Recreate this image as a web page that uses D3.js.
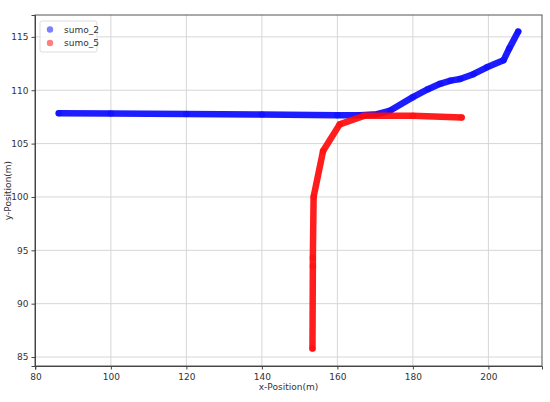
<!DOCTYPE html>
<html>
<head>
<meta charset="utf-8">
<script src="https://cdn.jsdelivr.net/npm/d3@7"></script>
<style>
  html, body { margin: 0; padding: 0; background: #fff; }
  svg { display: block; font-family: "DejaVu Sans", sans-serif; }
</style>
</head>
<body>
<svg id="chart" width="550" height="402"></svg>
<script>
// ---- data ----
const seriesNames = ["sumo_2", "sumo_5"];
const sumo2X = [86.2, 100, 120, 140, 160, 166, 170.5, 174, 180, 184, 187.2, 190, 192.5, 196, 199.6, 204, 205.5, 207.9];
const sumo2Y = [107.85, 107.82, 107.78, 107.72, 107.66, 107.66, 107.75, 108.1, 109.35, 110.1, 110.6, 110.9, 111.05, 111.5, 112.15, 112.8, 113.9, 115.5];
const sumo5X = [153.4, 153.5, 153.5, 153.7, 156.2, 160.6, 167.0, 180, 192.9];
const sumo5Y = [85.8, 93.5, 94.3, 100.0, 104.3, 106.8, 107.6, 107.6, 107.45];
const xTicks = [80, 100, 120, 140, 160, 180, 200];
const yTicks = [85, 90, 95, 100, 105, 110, 115];
const xLabel = "x-Position(m)";
const yLabel = "y-Position(m)";

// ---- layout ----
const svg = d3.select("#chart");
const L = 35, R = 542, T = 15, B = 366;
const x = d3.scaleLinear().domain([79.9, 214.2]).range([L, R]);
const y = d3.scaleLinear().domain([84.16, 117.05]).range([B, T]);

// grid
const grid = svg.append("g");
grid.selectAll("line.gx").data(xTicks).enter().append("line")
  .attr("x1", d => x(d)).attr("x2", d => x(d)).attr("y1", T).attr("y2", B)
  .attr("stroke", "#d6d6d6").attr("stroke-width", 1);
grid.selectAll("line.gy").data(yTicks).enter().append("line")
  .attr("y1", d => y(d)).attr("y2", d => y(d)).attr("x1", L).attr("x2", R)
  .attr("stroke", "#d6d6d6").attr("stroke-width", 1);

// series
const colors = ["#0a0aff", "#ff0a0a"];
const legendColors = ["#7f7fff", "#ff7f7f"];
const series = [
  sumo2X.map((d, i) => [d, sumo2Y[i]]),
  sumo5X.map((d, i) => [d, sumo5Y[i]])
];
const line = d3.line().x(d => x(d[0])).y(d => y(d[1])).curve(d3.curveLinear);
series.forEach((pts, k) => {
  svg.append("path").datum(pts)
    .attr("d", line)
    .attr("fill", "none")
    .attr("stroke", colors[k])
    .attr("stroke-width", 6.5)
    .attr("stroke-linecap", "round")
    .attr("stroke-linejoin", "round")
    .attr("opacity", 0.92);
  svg.append("g").selectAll("circle").data(pts).enter().append("circle")
    .attr("cx", d => x(d[0])).attr("cy", d => y(d[1])).attr("r", 3.3)
    .attr("fill", colors[k]).attr("opacity", 0.5);
});

// frame
svg.append("rect").attr("x", L).attr("y", T).attr("width", R - L).attr("height", B - T)
  .attr("fill", "none").attr("stroke", "#555").attr("stroke-width", 1);

// axes
const xAxis = d3.axisBottom(x).tickValues(xTicks).tickSize(3.5).tickPadding(4).tickFormat(d3.format("d"));
const yAxis = d3.axisLeft(y).tickValues(yTicks).tickSize(3.5).tickPadding(3).tickFormat(d3.format("d"));
const gx = svg.append("g").attr("transform", `translate(0,${B})`).call(xAxis);
const gy = svg.append("g").attr("transform", `translate(${L},0)`).call(yAxis);
[gx, gy].forEach(g => {
  g.select(".domain").attr("stroke", "#444");
  g.selectAll(".tick line").attr("stroke", "#444");
  g.selectAll(".tick text").attr("fill", "#333").attr("font-size", "9px").attr("font-family", "DejaVu Sans, sans-serif");
});

svg.append("text").attr("x", (L + R) / 2).attr("y", 390).attr("text-anchor", "middle")
  .attr("font-size", "9px").attr("fill", "#333").text(xLabel);
svg.append("text").attr("transform", `translate(11,${(T + B) / 2}) rotate(-90)`).attr("text-anchor", "middle")
  .attr("font-size", "9px").attr("fill", "#333").text(yLabel);

// legend
const lg = svg.append("g");
lg.append("rect").attr("x", 40).attr("y", 21).attr("width", 57).attr("height", 31)
  .attr("rx", 2).attr("fill", "#fff").attr("fill-opacity", 0.8).attr("stroke", "#ddd");
seriesNames.forEach((n, i) => {
  const cy = 29.5 + i * 13.5;
  lg.append("circle").attr("cx", 50).attr("cy", cy).attr("r", 3.2).attr("fill", legendColors[i]);
  lg.append("text").attr("x", 64).attr("y", cy + 3.2).attr("font-size", "9px").attr("fill", "#333").text(n);
});
</script>
</body>
</html>
